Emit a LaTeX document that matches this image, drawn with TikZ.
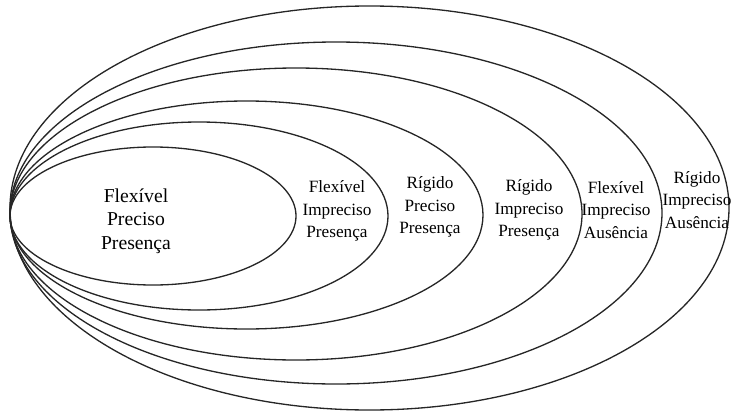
\documentclass[tikz,border=0pt]{standalone}
\usepackage{fontspec}
\setmainfont{Liberation Serif}
\begin{document}
\begin{tikzpicture}[x=0.02cm,y=-0.02cm,
  ring/.style={draw=black!85, line width=0.75pt},
  lbl/.style={align=center, inner sep=0pt, font=\fontsize{9.8}{13}\selectfont},
  biglbl/.style={align=center, inner sep=0pt, font=\fontsize{11.2}{13.4}\selectfont}]
\useasboundingbox (0,0) rectangle (731,416);
\def\u{0.02cm}
% nested ellipses, all touching at the left
\draw[ring] (369.5,208) ellipse [x radius=359.5*\u, y radius=202*\u];
\draw[ring] (336,213) ellipse [x radius=326*\u, y radius=171*\u];
\draw[ring] (296,214) ellipse [x radius=286*\u, y radius=146*\u];
\draw[ring] (246.5,215) ellipse [x radius=236.5*\u, y radius=114*\u];
\draw[ring] (199,216) ellipse [x radius=189*\u, y radius=94*\u];
\draw[ring] (153,216) ellipse [x radius=143*\u, y radius=69*\u];
% labels
\node[biglbl] (l1) at (136,221) {Flexível\\Preciso\\Presença};
\node[lbl] (l2) at (337,211) {Flexível\\Impreciso\\Presença};
\node[lbl] (l3) at (430,207) {Rígido\\Preciso\\Presença};
\node[lbl] (l4) at (529,210) {Rígido\\Impreciso\\Presença};
\node[lbl] (l5) at (616,210) {Flexível\\Impreciso\\Ausência};
\node[lbl] (l6) at (697,200) {Rígido\\Impreciso\\Ausência};
\end{tikzpicture}
\end{document}
